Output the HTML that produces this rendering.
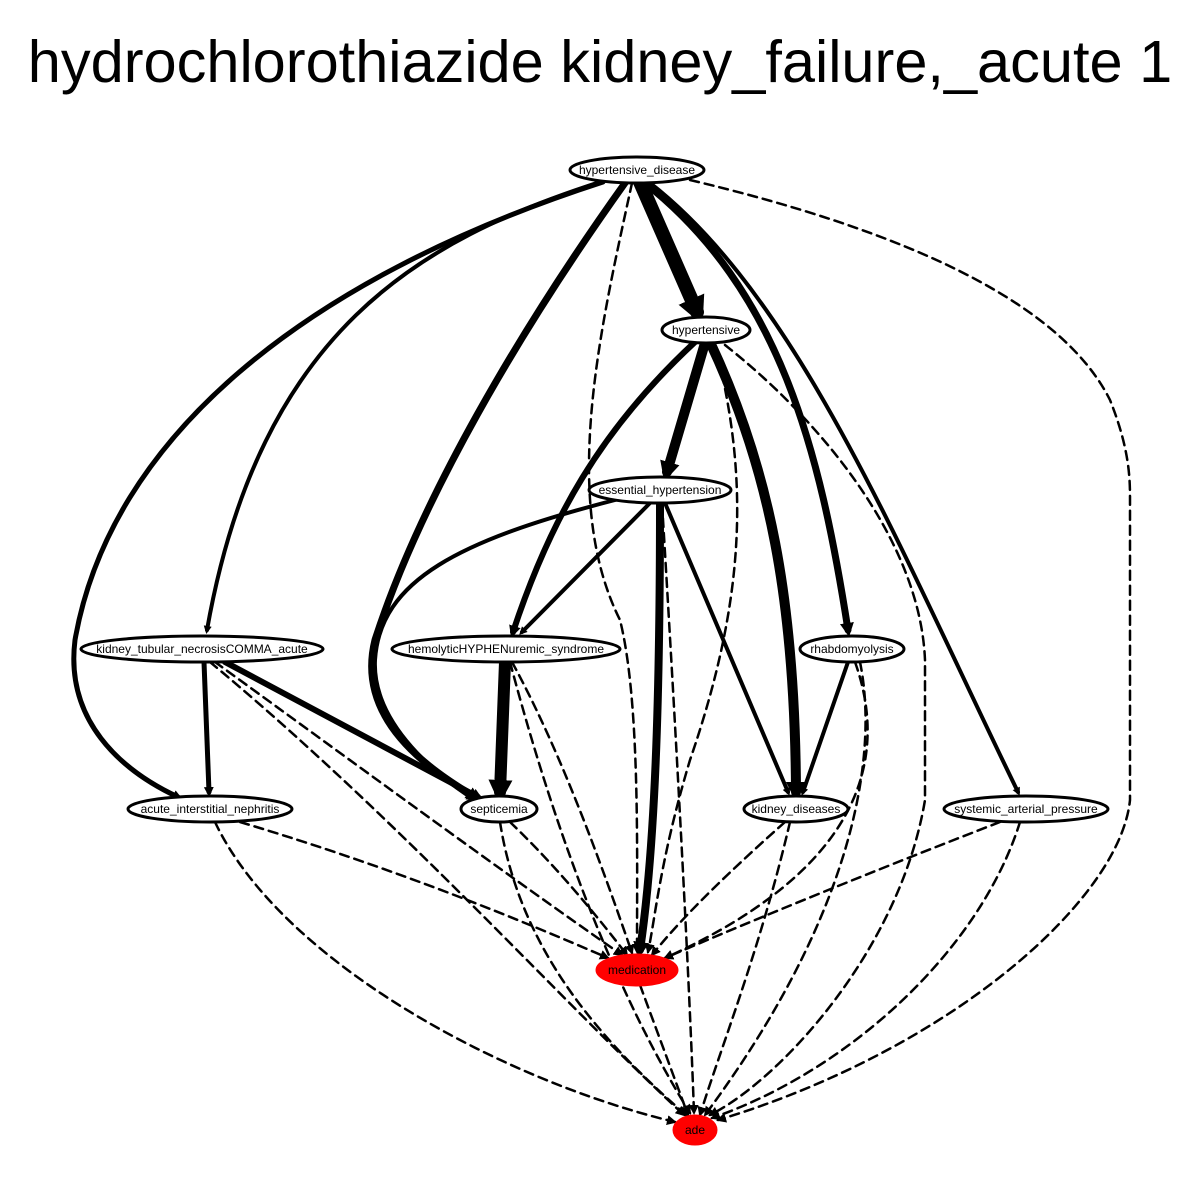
<!DOCTYPE html>
<html>
<head>
<meta charset="utf-8">
<style>
  html,body{margin:0;padding:0;background:#fff;}
  svg{display:block;font-family:"Liberation Sans",Arial,sans-serif;}
</style>
</head>
<body>
<svg id="chart" width="1200" height="1200" viewBox="0 0 1200 1200" xmlns="http://www.w3.org/2000/svg">
  <defs>
    <marker id="arr" viewBox="0 0 10 10" refX="5" refY="5" markerWidth="2" markerHeight="2" orient="auto" markerUnits="strokeWidth">
      <path d="M0,0 L10,5 L0,10 z" fill="#000"/>
    </marker>
    <marker id="arrd" viewBox="0 0 10 10" refX="8" refY="5" markerWidth="4" markerHeight="4" orient="auto" markerUnits="strokeWidth">
      <path d="M0,0 L10,5 L0,10 z" fill="#000"/>
    </marker>
  </defs>
  <rect width="1200" height="1200" fill="#fff"/>
  <text x="600" y="82" text-anchor="middle" font-size="59.5">hydrochlorothiazide kidney_failure,_acute 1</text>
  <g id="edges"></g>
  <g id="nodes"></g>
</svg>
<script>
const nodeNames = ["hypertensive_disease","hypertensive","essential_hypertension","kidney_tubular_necrosisCOMMA_acute","hemolyticHYPHENuremic_syndrome","rhabdomyolysis","acute_interstitial_nephritis","septicemia","kidney_diseases","systemic_arterial_pressure","medication","ade"];
const nodeX = [637,706,660,202,506,852,210,499,796,1026,637,695];
const nodeY = [170,330,490,649,649,649,809,809,809,809,970,1130];
const nodeRx = [67,44,71,121,114,52,82,38,52,82,40,21];
const nodeRy = [13,13,13,13,13,13,13,13,13,13,15,14];
const nodeRed = [0,0,0,0,0,0,0,0,0,0,1,1];

const edgePaths = [
 ["M640,182 L697,312",14,0],
 ["M705,343 L667,472",10,0],
 ["M600,182 C420,240 260,330 207,630",4,0],
 ["M603,182 C300,280 110,440 75,640 C65,720 120,770 178,797",5,0],
 ["M625,183 C520,330 420,500 375,640 C355,720 430,770 475,797",7,0],
 ["M645,183 C780,290 820,450 848,630",7,0],
 ["M650,183 C800,300 900,550 1018,792",4,0],
 ["M695,342 C600,430 550,520 513,632",6,0],
 ["M710,342 C770,470 795,600 796,792",10,0],
 ["M650,503 L522,632",4,0],
 ["M615,500 C460,540 380,580 375,660 C372,720 430,770 470,797",4,0],
 ["M660,503 C660,700 655,850 640,950",8,0],
 ["M665,503 L788,792",4,0],
 ["M204,662 L209,792",5,0],
 ["M225,662 L478,797",6,0],
 ["M505,662 L500,792",12,0],
 ["M848,662 L803,792",4,0],
 ["M632,183 C600,330 560,500 620,620 C640,700 637,850 637,952",2.5,1],
 ["M690,180 C900,230 1060,300 1110,400 C1130,450 1130,480 1130,500 L1130,800 C1120,900 950,1050 718,1120",2.5,1],
 ["M715,345 C750,480 745,600 690,760 C660,860 655,920 648,952",2.5,1],
 ["M725,345 C820,420 920,540 925,660 L925,800 C900,950 780,1080 710,1115",2.5,1],
 ["M662,503 C680,800 690,1000 694,1113",2.5,1],
 ["M215,662 C350,760 500,870 622,955",2.5,1],
 ["M210,662 C400,820 560,1000 684,1115",2.5,1],
 ["M512,662 C560,750 600,860 632,953",2.5,1],
 ["M510,662 C560,850 620,1000 690,1113",2.5,1],
 ["M855,662 C890,760 860,870 665,958",2.5,1],
 ["M860,662 C880,760 850,920 705,1115",2.5,1],
 ["M240,822 C400,870 520,920 608,958",2.5,1],
 ["M215,822 C280,960 500,1080 675,1122",2.5,1],
 ["M510,822 C560,870 600,920 627,955",2.5,1],
 ["M500,822 C520,950 600,1040 686,1115",2.5,1],
 ["M785,822 C720,880 680,920 652,955",2.5,1],
 ["M790,822 C760,950 720,1050 700,1115",2.5,1],
 ["M1000,822 C850,880 730,930 665,958",2.5,1],
 ["M1020,822 C980,950 850,1070 712,1118",2.5,1],
 ["M640,985 L688,1115",2.5,1]
];

const NS="http://www.w3.org/2000/svg";
const eg=document.getElementById('edges');
edgePaths.forEach((e,i)=>{
  const p=document.createElementNS(NS,'path');
  p.setAttribute('d',e[0]);
  p.setAttribute('fill','none');
  p.setAttribute('stroke','#000');
  p.setAttribute('stroke-width',e[1]);
  p.setAttribute('stroke-linecap','round');
  if(e[2]){p.setAttribute('stroke-dasharray','9,6');p.setAttribute('marker-end','url(#arrd)');}
  else p.setAttribute('marker-end','url(#arr)');
  
  
  eg.appendChild(p);
});
const ng=document.getElementById('nodes');
nodeNames.forEach((n,i)=>{
  const g=document.createElementNS(NS,'g');
  
  
  const el=document.createElementNS(NS,'ellipse');
  el.setAttribute('cx',nodeX[i]);el.setAttribute('cy',nodeY[i]);
  el.setAttribute('rx',nodeRx[i]);el.setAttribute('ry',nodeRy[i]);
  el.setAttribute('fill',nodeRed[i]?'#ff0000':'#fff');
  el.setAttribute('stroke',nodeRed[i]?'#ff0000':'#000');
  el.setAttribute('stroke-width',3);
  g.appendChild(el);
  const t=document.createElementNS(NS,'text');
  t.setAttribute('x',nodeX[i]);t.setAttribute('y',nodeY[i]+4);
  t.setAttribute('text-anchor','middle');t.setAttribute('font-size','12');
  t.textContent=n;
  g.appendChild(t);
  ng.appendChild(g);
});
</script>
</body>
</html>
